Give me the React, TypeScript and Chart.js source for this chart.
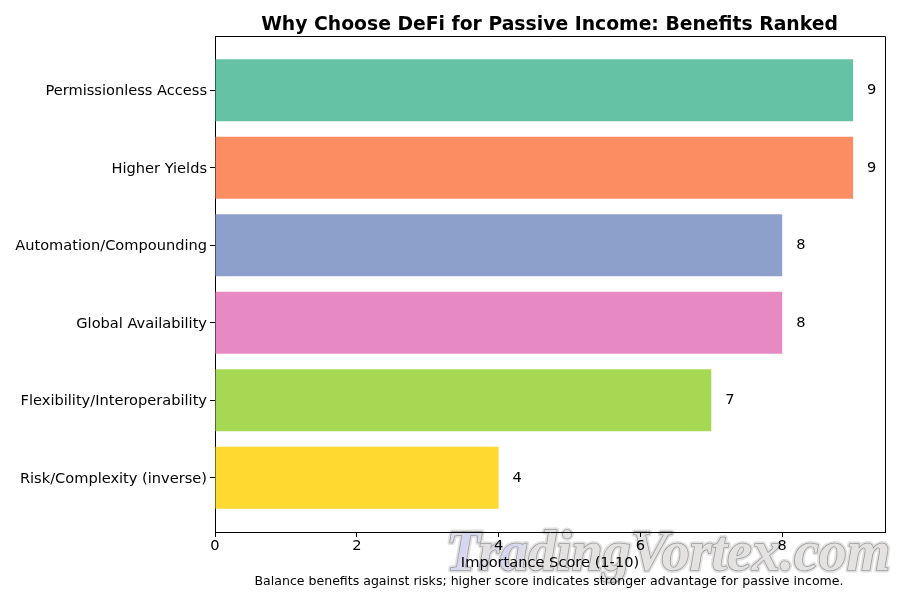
import { useEffect, useRef } from 'react';
import { Chart, registerables } from 'chart.js';

Chart.register(...registerables);

const FONT = '"DejaVu Sans", sans-serif';

const categories = [
  'Permissionless Access',
  'Higher Yields',
  'Automation/Compounding',
  'Global Availability',
  'Flexibility/Interoperability',
  'Risk/Complexity (inverse)',
];
const scores = [9, 9, 8, 8, 7, 4];
const barColors = ['#66c2a5', '#fc8d62', '#8da0cb', '#e78ac3', '#a6d854', '#ffd92f'];
const positions = [0, 1, 2, 3, 4, 5];

const titleText = 'Why Choose DeFi for Passive Income: Benefits Ranked';
const xLabel = 'Importance Score (1-10)';
const footerText = 'Balance benefits against risks; higher score indicates stronger advantage for passive income.';
const watermarkText = 'TradingVortex.com';

// site stamp sits under everything else
const watermarkPlugin = {
  id: 'watermark',
  beforeDraw(chart: Chart) {
    const ctx = chart.ctx;
    ctx.save();
    ctx.font = 'italic 700 56px "Liberation Serif", serif';
    ctx.textAlign = 'left';
    ctx.textBaseline = 'alphabetic';
    ctx.lineJoin = 'round';
    const grad = ctx.createLinearGradient(445, 535, 520, 575);
    grad.addColorStop(0, '#e4e1e1');
    grad.addColorStop(0.25, '#d4d6f2');
    grad.addColorStop(0.5, '#e4e1e1');
    grad.addColorStop(0.75, '#d4d6f2');
    grad.addColorStop(1, '#e4e1e1');
    ctx.strokeStyle = '#e0e0e0';
    ctx.lineWidth = 5;
    ctx.strokeText(watermarkText, 446, 570);
    ctx.strokeStyle = '#999999';
    ctx.lineWidth = 1.5;
    ctx.strokeText(watermarkText, 446, 570);
    ctx.fillStyle = grad;
    ctx.fillText(watermarkText, 446, 570);
    ctx.restore();
  },
};

// title, footer, value labels and the top/right spines
const annotationPlugin = {
  id: 'annotations',
  afterDraw(chart: Chart) {
    const ctx = chart.ctx;
    const area = chart.chartArea;
    ctx.save();
    ctx.strokeStyle = '#000000';
    ctx.lineWidth = 1;
    ctx.beginPath();
    ctx.moveTo(area.left, area.top + 0.5);
    ctx.lineTo(area.right + 0.5, area.top + 0.5);
    ctx.lineTo(area.right + 0.5, area.bottom);
    ctx.stroke();

    ctx.fillStyle = '#000000';
    ctx.textAlign = 'center';
    ctx.textBaseline = 'alphabetic';
    ctx.font = `700 18.8px ${FONT}`;
    ctx.fillText(titleText, 549.5, 30);
    ctx.font = `12.55px ${FONT}`;
    ctx.fillText(footerText, 549, 585);

    ctx.textAlign = 'left';
    ctx.textBaseline = 'middle';
    ctx.font = `14.6px ${FONT}`;
    chart.getDatasetMeta(0).data.forEach((bar, i) => {
      ctx.fillText(String(scores[i]), bar.x + 14, bar.y);
    });
    ctx.restore();
  },
};

export default function App() {
  const canvasRef = useRef<HTMLCanvasElement>(null);

  useEffect(() => {
    if (!canvasRef.current) return;

    const chart = new Chart(canvasRef.current, {
      type: 'bar',
      data: {
        datasets: [{
          data: scores.map((s, i) => ({ x: s, y: positions[i] })),
          backgroundColor: barColors,
          borderWidth: 0,
          barPercentage: 0.8,
          categoryPercentage: 1,
        }],
      },
      options: {
        indexAxis: 'y',
        responsive: false,
        animation: false,
        layout: { padding: { top: 36, right: 15, bottom: 0, left: 0 } },
        plugins: {
          legend: { display: false },
          tooltip: { enabled: false },
        },
        scales: {
          x: {
            type: 'linear',
            min: 0,
            max: 9.45,
            afterBuildTicks: (axis) => {
              axis.ticks = [0, 2, 4, 6, 8].map((value) => ({ value }));
            },
            afterFit: (axis) => {
              axis.height = 68;
            },
            border: { display: true, color: '#000000', width: 1 },
            grid: { drawOnChartArea: false, drawTicks: true, tickLength: 5, color: '#000000' },
            ticks: {
              color: '#000000',
              font: { family: FONT, size: 14.6 },
              padding: 0,
              maxRotation: 0,
              autoSkip: false,
            },
            title: {
              display: true,
              text: xLabel,
              color: '#000000',
              font: { family: FONT, size: 14.6 },
              padding: { top: 4, bottom: 28 },
            },
          },
          y: {
            type: 'linear',
            reverse: true,
            offset: false,
            min: -0.7,
            max: 5.7,
            afterBuildTicks: (axis) => {
              axis.ticks = positions.map((value) => ({ value }));
            },
            afterFit: (axis) => {
              axis.width = 215;
            },
            border: { display: true, color: '#000000', width: 1 },
            grid: { offset: false, drawOnChartArea: false, drawTicks: true, tickLength: 5, color: '#000000' },
            ticks: {
              color: '#000000',
              font: { family: FONT, size: 14.6 },
              padding: 3,
              labelOffset: 1,
              autoSkip: false,
              callback: (value) => categories[Number(value)] ?? '',
            },
          },
        },
      },
      plugins: [watermarkPlugin, annotationPlugin],
    });

    return () => chart.destroy();
  }, []);

  return (
    <div style={{ position: 'absolute', left: 0, top: 0, width: 900, height: 600, background: '#ffffff' }}>
      <canvas ref={canvasRef} width={900} height={600} />
    </div>
  );
}
